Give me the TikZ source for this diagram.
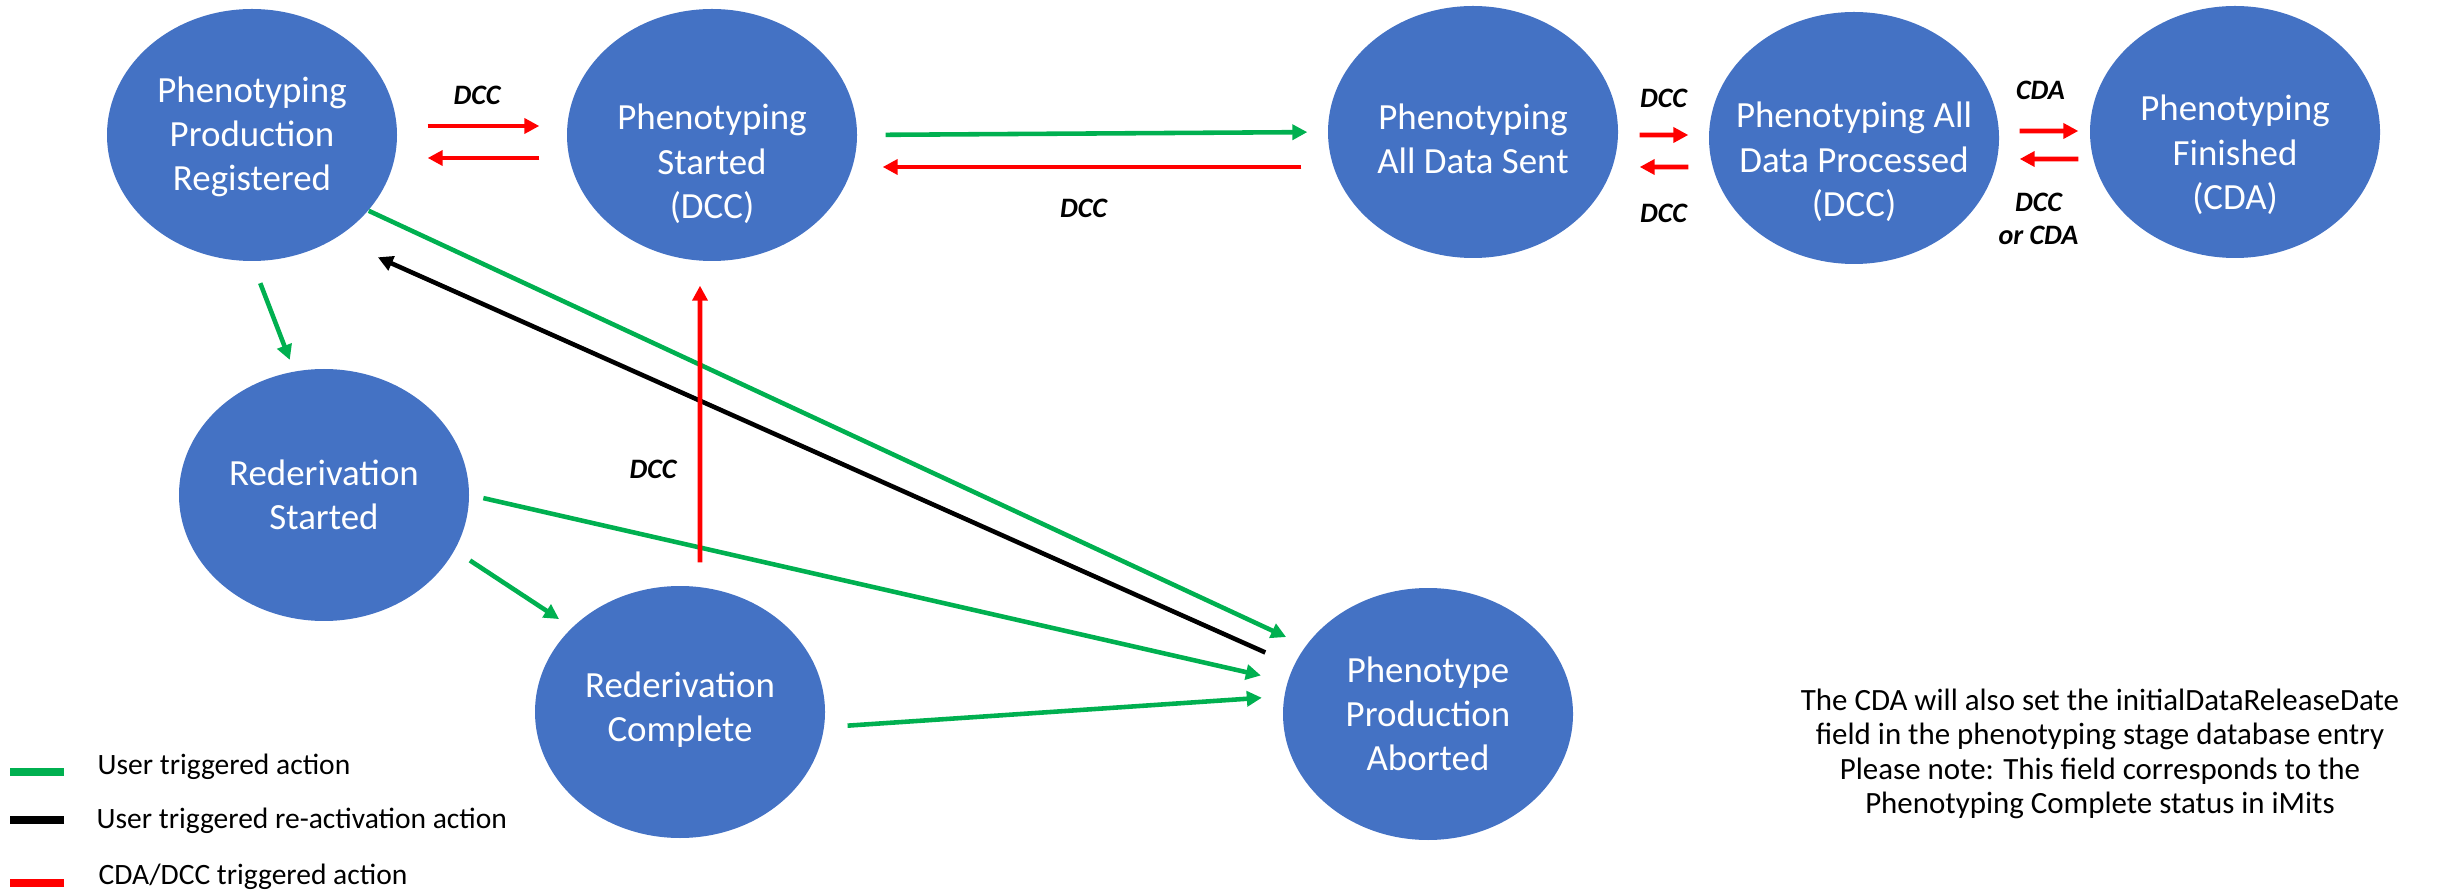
\documentclass[tikz,border=0pt]{standalone}
\usepackage{fontspec}
\setmainfont{Carlito}
\usetikzlibrary{shapes.geometric,arrows.meta}

\definecolor{state fill}{HTML}{4472C4}
\definecolor{user green}{HTML}{00B050}
\colorlet{cda red}{red}
\def\tip{Triangle[length=1.5mm,width=1.5mm]}
\tikzset{state/.style={ellipse, fill=state fill, minimum width=29mm, minimum height=25.2mm, inner sep=0pt},
    statetext/.style={text=white, align=center, inner sep=0pt, font=\fontsize{10.5}{12.6}\selectfont},
    user/.style={draw=user green, line width=1.3pt, -{\tip}},
    reactivate/.style={draw=black, line width=1.3pt, -{\tip}},
    cda/.style={draw=cda red, line width=1.4pt, -{\tip}},
    tag/.style={align=center, inner sep=0pt, font=\fontsize{8}{9.6}\selectfont\bfseries\itshape},
    legendtext/.style={anchor=west, inner sep=0pt, font=\fontsize{8.4}{10}\selectfont},
    legendbar/.style={line width=2.2pt}}

\begin{document}
\begin{tikzpicture}[x=0.1mm, y=-0.1mm]
    \useasboundingbox (0,0) rectangle (2458,892);

    \node[state] (reg) at (252,135) {};
    \node[state] (started) at (712,135) {};
    \node[state] (sent) at (1473,132) {};
    \node[state] (processed) at (1854,138) {};
    \node[state] (finished) at (2235,132) {};
    \node[state] (rstarted) at (324,495) {};
    \node[state] (rcomplete) at (680,712) {};
    \node[state] (aborted) at (1428,714) {};

    \node[statetext] (regtext) at ([yshift=-0.2mm]reg.center) {Phenotyping\\Production\\Registered};
    \node[statetext] (startedtext) at ([yshift=-2.9mm]started.center) {Phenotyping\\Started\\(DCC)};
    \node[statetext] (senttext) at ([yshift=-0.7mm]sent.center) {Phenotyping\\All Data Sent};
    \node[statetext] (processedtext) at ([yshift=-2.4mm]processed.center) {Phenotyping All\\Data Processed\\(DCC)};
    \node[statetext] (finishedtext) at ([yshift=-2.3mm]finished.center) {Phenotyping\\Finished\\(CDA)};
    \node[statetext] (rstartedtext) at (rstarted.center) {Rederivation\\Started};
    \node[statetext] (rcompletetext) at ([yshift=0.2mm]rcomplete.center) {Rederivation\\Complete};
    \node[statetext] (abortedtext) at (aborted.center) {Phenotype\\Production\\Aborted};

    \draw[cda, shorten <=3mm, shorten >=2.7mm] ([yshift=0.9mm]reg.east)
        -- node[tag, xshift=-0.5mm, yshift=3.1mm] (regdcc) {DCC} ([yshift=0.9mm]started.west);
    \draw[cda, shorten <=2.7mm, shorten >=3mm] ([yshift=-2.3mm]started.west) -- ([yshift=-2.3mm]reg.east);
    \draw[user, shorten <=2.8mm, shorten >=2mm] (started.east) -- (sent.west);
    \draw[cda, shorten <=2.6mm, shorten >=2.5mm] ([yshift=-3.5mm]sent.west)
        -- node[tag, xshift=-0.9mm, yshift=-4.1mm] (sentdcc) {DCC} ([yshift=-3.2mm]started.east);
    \draw[cda, shorten <=2.1mm, shorten >=2mm] ([yshift=-0.3mm]sent.east)
        -- node[tag, yshift=3.7mm] (processdcc) {DCC} ([yshift=0.3mm]processed.west);
    \draw[cda, shorten <=2mm, shorten >=2.1mm] ([yshift=-2.9mm]processed.west)
        -- node[tag, yshift=-4.6mm] (backdcc) {DCC} ([yshift=-3.5mm]sent.east);
    \draw[cda, shorten <=2mm, shorten >=1.1mm] ([yshift=0.7mm]processed.east)
        -- node[tag, xshift=-0.4mm, yshift=4.1mm] (finishcda) {CDA} ([yshift=0.1mm]finished.west);
    \draw[cda, shorten <=1.1mm, shorten >=2mm] ([yshift=-2.7mm]finished.west)
        -- node[tag, xshift=-0.6mm, yshift=-6mm] (reopen) {DCC\\or CDA} ([yshift=-2.1mm]processed.east);

    \draw[user, shorten <=2.3mm, shorten >=0.9mm] (reg.south) -- ([xshift=-3.1mm]rstarted.north);
    \draw[user, shorten >=2.1mm] (reg.-33) -- (aborted.151);
    \draw[reactivate, shorten <=3.1mm, shorten >=4.6mm] (aborted.160) -- (reg.-51);
    \draw[user, shorten <=1.4mm, shorten >=2.7mm] (rstarted.east) -- (aborted.167);
    \draw[user, shorten <=1.8mm, shorten >=1.5mm] (rstarted.-23) -- (rcomplete.142);
    \draw[user, shorten <=2.3mm, shorten >=2.2mm] (rcomplete.-6) -- (aborted.173);
    \draw[cda, shorten <=2.3mm, shorten >=2.4mm] ([xshift=2mm]rcomplete.north)
        -- node[tag, pos=0.357, xshift=-4.7mm] (completedcc) {DCC} ([xshift=-1.2mm]started.south);

    \node[legendtext] (leguser) at (97,767) {User triggered action};
    \node[legendtext] (legreact) at (96,821) {User triggered re-activation action};
    \node[legendtext] (legcda) at (98,877) {CDA/DCC triggered action};
    \draw[legendbar, user green] ([xshift=-3.3mm, yshift=-0.5mm]leguser.west) -- ++(-5.4mm,0);
    \draw[legendbar, black] ([xshift=-3.2mm, yshift=0.1mm]legreact.west) -- ++(-5.4mm,0);
    \draw[legendbar, cda red] ([xshift=-3.4mm, yshift=-0.6mm]legcda.west) -- ++(-5.4mm,0);

    \node[align=center, inner sep=0pt, font=\fontsize{8.8}{9.8}\selectfont] (note) at (2100,754)
        {The CDA will also set the initialDataReleaseDate\\field in the phenotyping stage database entry\\Please note: This field corresponds to the\\Phenotyping Complete status in iMits};
\end{tikzpicture}
\end{document}
